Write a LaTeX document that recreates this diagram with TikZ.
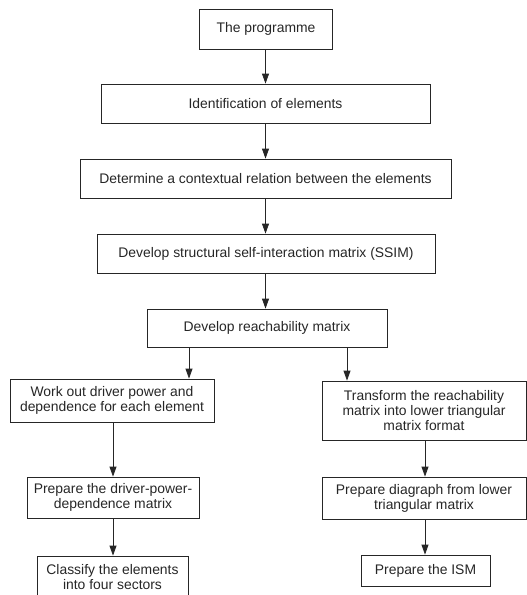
\documentclass[tikz,border=0pt]{standalone}
\usepackage{fontspec}
\setmainfont{Liberation Sans}
\usetikzlibrary{arrows.meta}
\begin{document}
\begin{tikzpicture}[x=1pt,y=-1pt,
  box/.style={draw=black!85, line width=0.8pt, inner sep=0pt, align=center,
    font=\fontsize{13.9}{15}\selectfont, text=black!85},
  arr/.style={draw=black!85, line width=0.8pt, -{Triangle[length=10pt,width=7pt]}}]
\useasboundingbox (0,0) rectangle (527,595);
\node[box, minimum width=133pt, minimum height=40pt] (p1) at (266,29) {The programme};
\node[box, minimum width=329pt, minimum height=39pt] (p2) at (265.5,103.5) {Identification of elements};
\node[box, minimum width=371pt, minimum height=39pt] (p3) at (265.5,178.5) {Determine a contextual relation between the elements};
\node[box, minimum width=338pt, minimum height=39pt] (p4) at (266,253.5) {Develop structural self-interaction matrix (SSIM)};
\node[box, minimum width=240pt, minimum height=38pt] (p5) at (267,328) {Develop reachability matrix};
\node[box, minimum width=204pt, minimum height=43pt] (l1) at (112,400.5) {Work out driver power and\\dependence for each element};
\node[box, minimum width=204pt, minimum height=59pt] (r1) at (424,410.5) {Transform the reachability\\matrix into lower triangular\\matrix format};
\node[box, minimum width=172pt, minimum height=41pt] (l2) at (113,497.5) {Prepare the driver-power-\\dependence matrix};
\node[box, minimum width=204pt, minimum height=42pt] (r2) at (424,498) {Prepare diagraph from lower\\triangular matrix};
\node[box, minimum width=151pt, minimum height=42pt] (l3) at (112.5,577) {Classify the elements\\into four sectors};
\node[box, minimum width=129pt, minimum height=31pt] (r3) at (425.5,570.5) {Prepare the ISM};
\coordinate (cx) at (265.5,0);
\coordinate (bl) at (189,0);
\coordinate (br) at (347,0);
\coordinate (lx) at (113,0);
\coordinate (rx) at (425,0);
\draw[arr] (p1.south -| cx) -- (p2.north -| cx);
\draw[arr] (p2.south -| cx) -- (p3.north -| cx);
\draw[arr] (p3.south -| cx) -- (p4.north -| cx);
\draw[arr] (p4.south -| cx) -- (p5.north -| cx);
\draw[arr] (p5.south -| bl) -- (l1.north -| bl);
\draw[arr] (p5.south -| br) -- (r1.north -| br);
\draw[arr] (l1.south -| lx) -- (l2.north -| lx);
\draw[arr] (l2.south -| lx) -- (l3.north -| lx);
\draw[arr] (r1.south -| rx) -- (r2.north -| rx);
\draw[arr] (r2.south -| rx) -- (r3.north -| rx);
\end{tikzpicture}
\end{document}
